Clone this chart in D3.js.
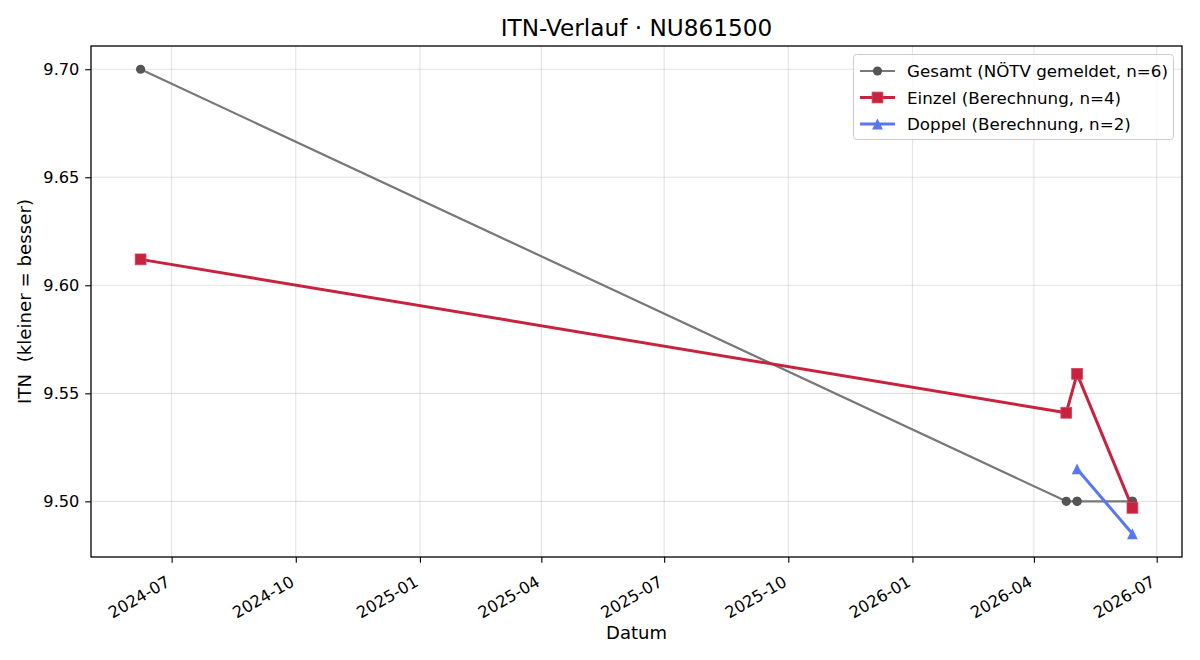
<!DOCTYPE html>
<html>
<head>
<meta charset="utf-8">
<script src="https://cdn.jsdelivr.net/npm/d3@7"></script>
<style>
  html, body { margin: 0; padding: 0; background: #fff; }
  svg { display: block; }
  text { white-space: pre; font-family: "DejaVu Sans", sans-serif; }
</style>
</head>
<body>
<svg id="chart" width="1200" height="660"></svg>
<script>
const title = "ITN-Verlauf · NU861500";
const xLabel = "Datum";
const yLabel = "ITN  (kleiner = besser)";

const gesamtDates = ["2024-06-08", "2026-04-25", "2026-05-03", "2026-05-03", "2026-06-13", "2026-06-13"];
const gesamtValues = [9.70, 9.50, 9.50, 9.50, 9.50, 9.50];

const einzelDates = ["2024-06-08", "2026-04-25", "2026-05-03", "2026-06-13"];
const einzelValues = [9.612, 9.541, 9.559, 9.497];

const doppelDates = ["2026-05-03", "2026-06-13"];
const doppelValues = [9.515, 9.485];

const seriesNames = ["Gesamt (NÖTV gemeldet, n=6)", "Einzel (Berechnung, n=4)", "Doppel (Berechnung, n=2)"];

const yTicks = [9.50, 9.55, 9.60, 9.65, 9.70];
const xTickLabels = ["2024-07", "2024-10", "2025-01", "2025-04", "2025-07", "2025-10", "2026-01", "2026-04", "2026-07"];

const parse = d3.utcParse("%Y-%m-%d");
const parseM = d3.utcParse("%Y-%m");

const series = [
  { name: seriesNames[0], dates: gesamtDates, values: gesamtValues, color: "#787878", marker: "#555555", width: 2.2, shape: "circle", size: 4.6 },
  { name: seriesNames[1], dates: einzelDates, values: einzelValues, color: "#c9223f", marker: "#c9223f", width: 3, shape: "square", size: 5.4 },
  { name: seriesNames[2], dates: doppelDates, values: doppelValues, color: "#5a77f2", marker: "#5a77f2", width: 3, shape: "triangle", size: 5.4 }
].map(s => ({ ...s, pts: s.dates.map((d, i) => ({ x: parse(d), y: s.values[i] })) }));

const svg = d3.select("#chart");
const L = 91, R = 1182, T = 46, B = 557;
const TICK = 5.8, PAD = 5.8, TICKFONT = 16.2;

const allPts = series.flatMap(s => s.pts);
const [xmin, xmax] = d3.extent(allPts, p => +p.x);
const xm = (xmax - xmin) * 0.05;
const [ymin, ymax] = d3.extent(allPts, p => p.y);
const ym = (ymax - ymin) * 0.05;

const x = d3.scaleUtc().domain([new Date(xmin - xm), new Date(xmax + xm)]).range([L, R]);
const y = d3.scaleLinear().domain([ymin - ym, ymax + ym]).range([B, T]);

const xTicks = xTickLabels.map(parseM);

// grid
const grid = svg.append("g");
grid.selectAll("line.v").data(xTicks).join("line")
  .attr("x1", d => x(d)).attr("x2", d => x(d)).attr("y1", T).attr("y2", B)
  .attr("stroke", "#b0b0b0").attr("stroke-opacity", 0.35).attr("stroke-width", 1.1);
grid.selectAll("line.h").data(yTicks).join("line")
  .attr("y1", d => y(d)).attr("y2", d => y(d)).attr("x1", L).attr("x2", R)
  .attr("stroke", "#b0b0b0").attr("stroke-opacity", 0.35).attr("stroke-width", 1.1);

// lines and markers
const line = d3.line().x(p => x(p.x)).y(p => y(p.y));

function drawMarker(g, s, cx, cy) {
  const sz = s.size;
  if (s.shape === "circle") {
    g.append("circle").attr("cx", cx).attr("cy", cy).attr("r", sz).attr("fill", s.marker);
  } else if (s.shape === "square") {
    g.append("rect").attr("x", cx - sz).attr("y", cy - sz).attr("width", 2 * sz).attr("height", 2 * sz)
      .attr("fill", s.marker).attr("stroke", "#d4405a").attr("stroke-width", 0.8);
  } else {
    g.append("path").attr("d", `M${cx},${cy - sz} L${cx + sz},${cy + sz} L${cx - sz},${cy + sz} Z`)
      .attr("fill", s.marker);
  }
}

const plot = svg.append("g");
series.forEach(s => {
  plot.append("path").datum(s.pts).attr("d", line)
    .attr("fill", "none").attr("stroke", s.color).attr("stroke-width", s.width)
    .attr("stroke-linejoin", "round").attr("stroke-linecap", "butt");
  const mg = plot.append("g");
  s.pts.forEach(p => drawMarker(mg, s, x(p.x), y(p.y)));
});

// axes
const xAxis = svg.append("g").attr("transform", `translate(0,${B})`)
  .call(d3.axisBottom(x).tickValues(xTicks).tickFormat(d3.utcFormat("%Y-%m")).tickSizeOuter(0).tickSize(TICK).tickPadding(PAD));
xAxis.select(".domain").remove();
xAxis.selectAll("line").attr("stroke", "#000").attr("stroke-width", 1.1);
xAxis.selectAll("text")
  .attr("font-size", TICKFONT).attr("fill", "#000")
  .attr("font-family", "DejaVu Sans, sans-serif")
  .attr("text-anchor", "end")
  .attr("x", 0).attr("y", 0).attr("dy", "0.93em")
  .attr("transform", "translate(-8.5,15) rotate(-30)");

const yAxis = svg.append("g").attr("transform", `translate(${L},0)`)
  .call(d3.axisLeft(y).tickValues(yTicks).tickFormat(d3.format(".2f")).tickSizeOuter(0).tickSize(TICK).tickPadding(PAD));
yAxis.select(".domain").remove();
yAxis.selectAll("line").attr("stroke", "#000").attr("stroke-width", 1.1);
yAxis.selectAll("text").attr("font-size", TICKFONT).attr("fill", "#000")
  .attr("font-family", "DejaVu Sans, sans-serif");

// frame
svg.append("rect").attr("x", L).attr("y", T).attr("width", R - L).attr("height", B - T)
  .attr("fill", "none").attr("stroke", "#000").attr("stroke-width", 1.3);

// labels
svg.append("text").attr("x", (L + R) / 2).attr("y", 36).attr("text-anchor", "middle")
  .attr("font-size", 23.2).attr("fill", "#000").text(title);
svg.append("text").attr("x", (L + R) / 2).attr("y", 639).attr("text-anchor", "middle")
  .attr("font-size", 18).attr("fill", "#000").text(xLabel);
svg.append("text").attr("transform", `translate(31,${(T + B) / 2}) rotate(-90)`).attr("text-anchor", "middle")
  .attr("font-size", 18.2).attr("fill", "#000").text(yLabel);

// legend
const lg = svg.append("g");
lg.append("rect").attr("x", 853.5).attr("y", 54.5).attr("width", 320).attr("height", 85).attr("rx", 3)
  .attr("fill", "#fff").attr("fill-opacity", 0.8).attr("stroke", "#cccccc").attr("stroke-width", 1);
series.forEach((s, i) => {
  const cy = 71 + i * 26.5;
  lg.append("line").attr("x1", 860).attr("x2", 895).attr("y1", cy).attr("y2", cy)
    .attr("stroke", s.color).attr("stroke-width", s.width);
  drawMarker(lg, s, 877.5, cy);
  lg.append("text").attr("x", 907).attr("y", cy).attr("dominant-baseline", "central")
    .attr("font-size", 16.7).attr("fill", "#000").text(s.name);
});
</script>
</body>
</html>
